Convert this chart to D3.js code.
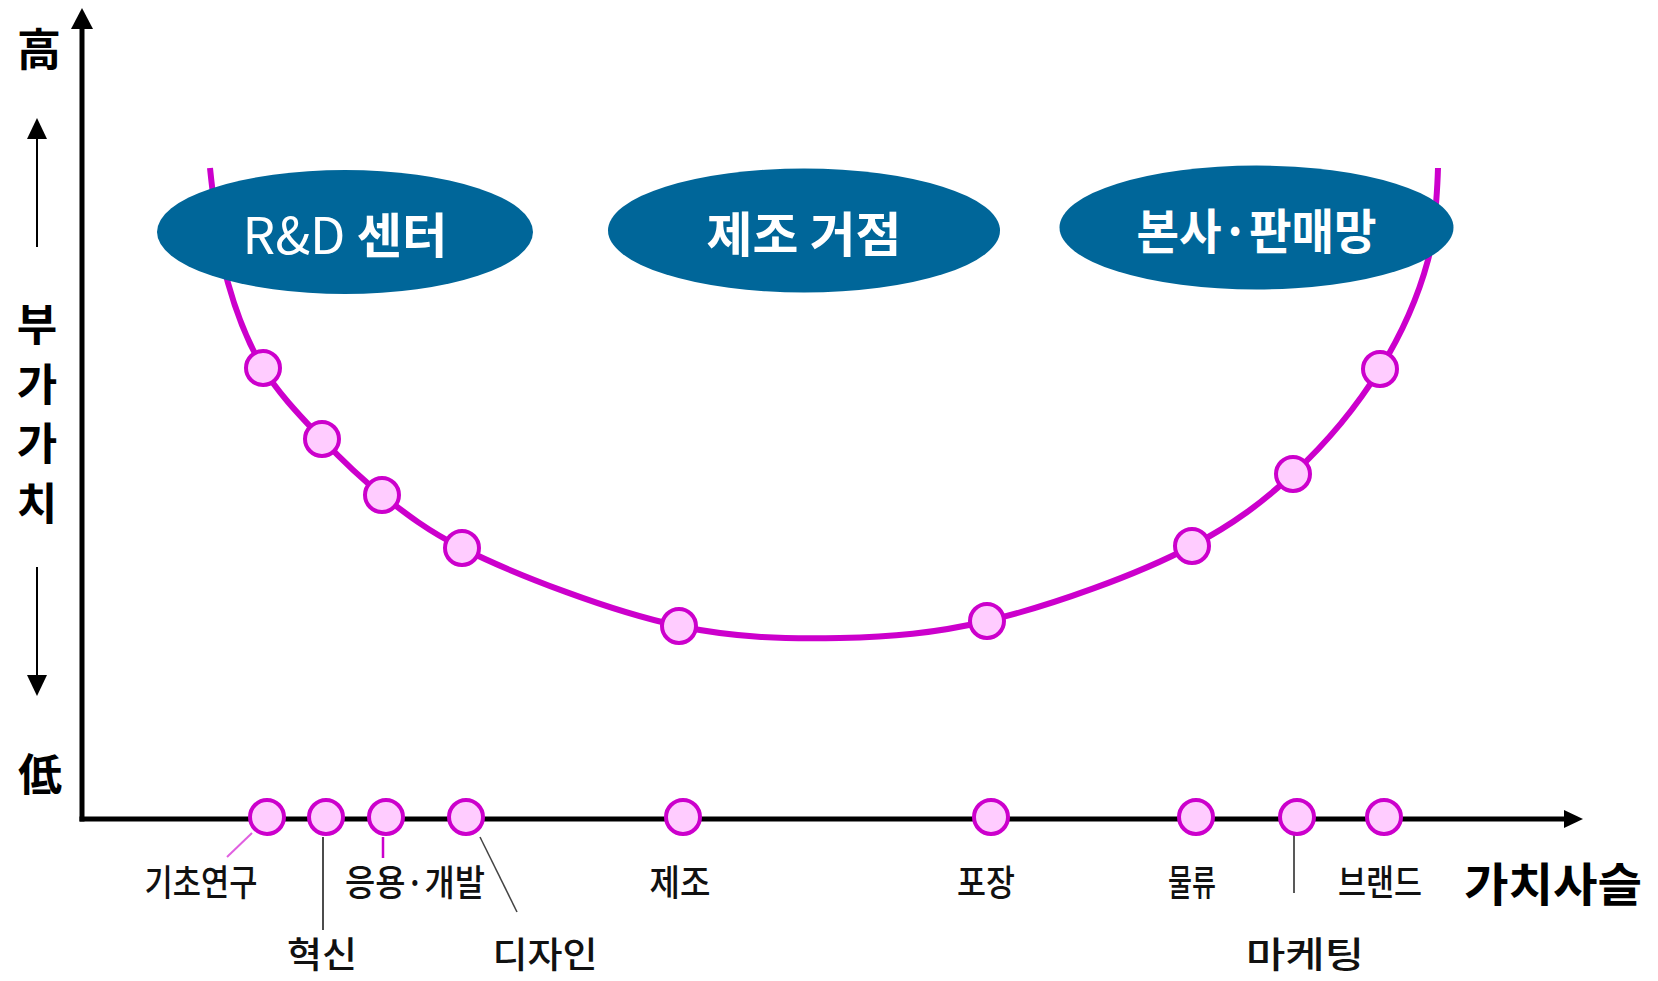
<!DOCTYPE html>
<html>
<head>
<meta charset="utf-8">
<script src="https://cdn.jsdelivr.net/npm/d3@7"></script>
<style>
  html, body { margin: 0; padding: 0; background: #fff; }
  svg { display: block; }
</style>
</head>
<body>
<svg id="chart" width="1658" height="981"></svg>
<script>
// Value-chain stages: position along the chain and added value
const stages     = ["기초연구", "혁신", "응용·개발", "디자인", "제조", "포장", "물류", "마케팅", "브랜드"];
const stagePos   = [18.1, 24.0, 30.0, 38.0, 59.7, 90.5, 111.0, 121.1, 129.8];
const stageValue = [45.1, 38.0, 32.4, 27.1, 19.3, 19.8, 27.3, 34.5, 45.0];

// Smile curve: open ends, the stages and the lowest point between 제조 and 포장
const curvePos   = [12.8, 14.6, 18.1, 24.0, 30.0, 38.0, 59.7, 75.8, 90.5, 111.0, 121.1, 129.8, 134.6, 135.6];
const curveValue = [65.1, 53.6, 45.1, 38.0, 32.4, 27.1, 19.3, 18.1, 19.8, 27.3, 34.5, 45.0, 55.9, 65.1];

// Activity groups drawn as ovals above the curve
const regions     = ["R&D 센터", "제조 거점", "본사·판매망"];
const regionPos   = [26.3, 72.2, 117.45];
const regionValue = [58.7, 58.85, 59.15];

// Axis captions
const yTop = "高", yBottom = "低", yTitle = ["부", "가", "가", "치"], xTitle = "가치사슬";

// ---- layout ----
const W = 1658, H = 981;
const x = d3.scaleLinear().domain([0, 150]).range([82, 1582]);
const y = d3.scaleLinear().domain([0, 81]).range([819, 9]);

const MAGENTA = "#cc00cc", PINK = "#ffccff", BLUE = "#006699";
const FONT = "'Noto Sans CJK KR', 'Noto Sans', sans-serif";

const regionRx = [188, 196, 197], regionRy = 62;
const regionTextWidth = [205, 195, 240];
const labelDx    = [-62, 0, 33, 83, 1, -1, 0, 12, 0];
const labelRow   = [0, 1, 0, 1, 0, 0, 0, 1, 0];
const labelWidth = [113, 70, 140, 105, 61, 58, 48, 118, 84];
const rowY = [880, 952];
// leader lines [x1, y1, x2, y2] relative to the stage marker on the axis
const leaders = [
  { i: 0, d: [-11, 14, -36, 38], c: "#e060e0", w: 2 },
  { i: 1, d: [1, 18, 1, 111],    c: "#111",    w: 1.5 },
  { i: 2, d: [1, 18, 1, 39],     c: MAGENTA,   w: 2.5 },
  { i: 3, d: [18, 18, 55, 93],   c: "#444",    w: 1.5 },
  { i: 7, d: [1, 16, 1, 74],     c: "#222",    w: 1.5 }
];
const AXIS_MARK_SHIFT = 4;

const svg = d3.select("#chart");
svg.append("rect").attr("width", W).attr("height", H).attr("fill", "#fff");

// ---- smile curve ----
const pts = curvePos.map((p, i) => [x(p), y(curveValue[i])]);
svg.append("path")
  .attr("d", d3.line().curve(d3.curveCatmullRom.alpha(0.5))(pts))
  .attr("fill", "none")
  .attr("stroke", MAGENTA)
  .attr("stroke-width", 6)
  .attr("stroke-linecap", "butt");

// stage markers on the curve
svg.append("g").selectAll("circle")
  .data(stages)
  .join("circle")
  .attr("cx", (d, i) => x(stagePos[i]))
  .attr("cy", (d, i) => y(stageValue[i]))
  .attr("r", 17)
  .attr("fill", PINK)
  .attr("stroke", MAGENTA)
  .attr("stroke-width", 4);

// ---- region ovals ----
const rg = svg.append("g").selectAll("g")
  .data(regions)
  .join("g")
  .attr("transform", (d, i) => `translate(${x(regionPos[i])},${y(regionValue[i])})`);
rg.append("ellipse")
  .attr("rx", (d, i) => regionRx[i])
  .attr("ry", regionRy)
  .attr("fill", BLUE);
rg.append("text")
  .attr("text-anchor", "middle")
  .attr("dominant-baseline", "central")
  .attr("fill", "#fff")
  .attr("font-family", FONT)
  .attr("font-weight", "bold")
  .attr("font-size", 48)
  .attr("textLength", (d, i) => regionTextWidth[i])
  .attr("lengthAdjust", "spacingAndGlyphs")
  .each(function (d) {
    const t = d3.select(this);
    if (d.startsWith("R&D")) {
      t.append("tspan").attr("font-weight", "normal").attr("font-size", 50).text("R&D");
      t.append("tspan").text(d.slice(3));
    } else {
      t.text(d);
    }
  });

// ---- axes ----
const axes = svg.append("g");
const x0 = x.range()[0], y0 = y.range()[0];
axes.append("line")
  .attr("x1", x0).attr("y1", y0 + 2.5).attr("x2", x0).attr("y2", y.range()[1] + 16)
  .attr("stroke", "#000").attr("stroke-width", 5);
axes.append("line")
  .attr("x1", x0 - 2.5).attr("y1", y0).attr("x2", x.range()[1] - 14).attr("y2", y0)
  .attr("stroke", "#000").attr("stroke-width", 5);
axes.append("path")
  .attr("d", d3.line()([[x0, y.range()[1] - 1], [x0 - 11, y.range()[1] + 20], [x0 + 11, y.range()[1] + 20]]) + "Z")
  .attr("fill", "#000");
axes.append("path")
  .attr("d", d3.line()([[x.range()[1] + 1, y0], [x.range()[1] - 18, y0 - 9], [x.range()[1] - 18, y0 + 9]]) + "Z")
  .attr("fill", "#000");

// ---- leader lines and axis markers ----
const lg = svg.append("g");
leaders.forEach(l => {
  const cx = x(stagePos[l.i]), cy = y(0);
  lg.append("line")
    .attr("x1", cx + l.d[0]).attr("y1", cy + l.d[1])
    .attr("x2", cx + l.d[2]).attr("y2", cy + l.d[3])
    .attr("stroke", l.c).attr("stroke-width", l.w);
});

svg.append("g")
  .attr("transform", `translate(${AXIS_MARK_SHIFT},-2)`)
  .selectAll("circle")
  .data(stages)
  .join("circle")
  .attr("cx", (d, i) => x(stagePos[i]))
  .attr("cy", y(0))
  .attr("r", 17)
  .attr("fill", PINK)
  .attr("stroke", MAGENTA)
  .attr("stroke-width", 4);

// stage labels
svg.append("g").selectAll("text")
  .data(stages)
  .join("text")
  .attr("x", (d, i) => x(stagePos[i]) + labelDx[i])
  .attr("y", (d, i) => rowY[labelRow[i]])
  .attr("text-anchor", "middle")
  .attr("dominant-baseline", "central")
  .attr("font-family", FONT)
  .attr("font-size", 36)
  .attr("font-weight", 500)
  .attr("fill", "#111")
  .attr("textLength", (d, i) => labelWidth[i])
  .attr("lengthAdjust", "spacingAndGlyphs")
  .text(d => d);

// x-axis title
svg.append("text")
  .attr("x", 1553).attr("y", 881)
  .attr("text-anchor", "middle")
  .attr("dominant-baseline", "central")
  .attr("font-family", FONT)
  .attr("font-weight", "bold")
  .attr("font-size", 46)
  .attr("textLength", 178)
  .attr("lengthAdjust", "spacingAndGlyphs")
  .attr("fill", "#000")
  .text(xTitle);

// ---- y-axis captions ----
const yc = svg.append("g")
  .attr("font-family", FONT)
  .attr("font-weight", "bold")
  .attr("font-size", 44)
  .attr("text-anchor", "middle")
  .attr("dominant-baseline", "central")
  .attr("fill", "#000");
yc.append("text").attr("x", 39).attr("y", 47).text(yTop);
yc.append("text").attr("x", 40).attr("y", 772).text(yBottom);
yc.selectAll("text.t")
  .data(yTitle)
  .join("text")
  .attr("class", "t")
  .attr("x", 37)
  .attr("y", (d, i) => 322 + i * 59.6)
  .text(d => d);

// small direction arrows beside the caption
const ar = svg.append("g");
ar.append("line").attr("x1", 37).attr("y1", 247).attr("x2", 37).attr("y2", 132)
  .attr("stroke", "#000").attr("stroke-width", 2);
ar.append("path").attr("d", "M37,118 L27,139 L47,139 Z").attr("fill", "#000");
ar.append("line").attr("x1", 37).attr("y1", 567).attr("x2", 37).attr("y2", 682)
  .attr("stroke", "#000").attr("stroke-width", 2);
ar.append("path").attr("d", "M37,696 L27,675 L47,675 Z").attr("fill", "#000");
</script>
</body>
</html>
